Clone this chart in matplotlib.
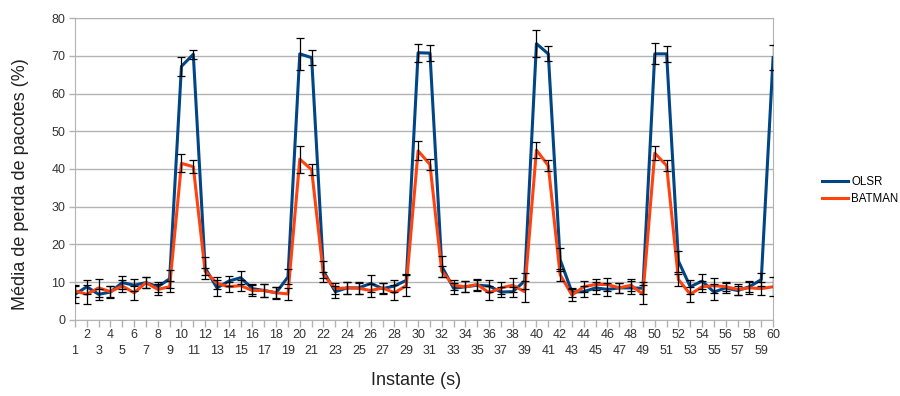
import matplotlib
matplotlib.use('Agg')
import matplotlib.pyplot as plt
import numpy as np

plt.rcParams['font.family'] = ['Liberation Sans', 'DejaVu Sans']

# Mean packet loss (%) per time instant, with standard deviation
instante = list(range(1, 61))
olsr = [6.8, 8.8, 6.8, 7.4, 9.9, 9.2, 9.9, 8.8, 10.9, 67.2,
        70.4, 13.8, 8.5, 10.3, 11.2, 8.3, 7.8, 7.2, 11.4, 70.5,
        69.5, 12.9, 7.5, 8.5, 8.5, 9.7, 8.3, 9.0, 10.5, 70.8,
        70.7, 14.2, 8.4, 8.8, 9.2, 9.0, 7.4, 7.5, 10.3, 73.2,
        70.5, 16.0, 7.4, 7.5, 8.5, 8.1, 8.5, 8.5, 8.4, 70.5,
        70.5, 15.6, 8.8, 10.3, 7.4, 8.5, 7.8, 8.8, 10.7, 69.5]
batman = [7.7, 6.8, 8.5, 7.5, 9.0, 7.2, 9.9, 8.1, 8.8, 41.5,
          40.6, 12.9, 9.7, 8.8, 9.1, 7.8, 7.8, 7.2, 6.9, 42.6,
          39.8, 12.0, 8.3, 8.5, 8.4, 7.8, 8.5, 7.2, 9.1, 44.8,
          41.2, 12.9, 9.2, 8.8, 9.4, 7.2, 8.5, 9.2, 7.5, 45.0,
          40.9, 12.0, 6.6, 8.8, 9.4, 9.4, 8.5, 9.2, 6.8, 44.2,
          40.9, 10.7, 6.8, 8.8, 9.1, 8.8, 8.1, 8.5, 8.3, 8.8]
olsr_err = [2.2, 1.8, 1.5, 1.5, 1.8, 1.6, 1.4, 1.3, 2.3, 2.6,
            1.2, 3.0, 2.2, 1.4, 1.8, 1.3, 1.6, 1.6, 2.0, 4.2,
            2.0, 2.8, 1.6, 1.6, 1.5, 2.2, 1.4, 1.5, 1.8, 2.4,
            2.2, 2.8, 1.4, 1.4, 1.4, 1.6, 1.3, 1.3, 2.2, 3.5,
            2.0, 3.0, 1.2, 1.5, 1.5, 1.8, 1.4, 1.7, 1.6, 2.8,
            2.1, 2.8, 1.8, 2.0, 2.0, 1.3, 1.3, 1.5, 1.8, 3.4]
batman_err = [1.5, 2.5, 2.3, 1.5, 1.5, 1.8, 1.5, 1.5, 1.5, 2.4,
              1.7, 1.0, 1.6, 1.3, 1.5, 1.5, 1.8, 1.5, 1.7, 3.6,
              1.5, 0.8, 1.5, 1.5, 1.5, 1.8, 1.3, 2.0, 2.8, 2.5,
              1.5, 1.5, 1.3, 1.5, 1.4, 1.8, 1.6, 1.8, 2.8, 2.1,
              1.5, 1.6, 1.5, 1.5, 1.4, 1.6, 1.3, 1.6, 2.5, 1.9,
              1.5, 1.6, 2.0, 1.5, 2.0, 1.2, 1.5, 1.5, 1.8, 2.5]

fig = plt.figure(figsize=(9, 3.96), dpi=100)
ax = fig.add_axes([0.0833, 0.192, 0.7757, 0.7625])

grid_col = '#b3b3b3'
ax.set_axisbelow(True)
ax.yaxis.grid(True, color=grid_col, linewidth=1)

ax.plot(instante, olsr, color='#004586', linewidth=2.2, label='OLSR', zorder=3)
ax.plot(instante, batman, color='#ff420e', linewidth=2.2, label='BATMAN', zorder=3)
ax.errorbar(instante, olsr, yerr=olsr_err, fmt='none', ecolor='black',
            elinewidth=0.9, capsize=3, capthick=0.9, zorder=4)
ax.errorbar(instante, batman, yerr=batman_err, fmt='none', ecolor='black',
            elinewidth=0.9, capsize=3, capthick=0.9, zorder=4)

ax.set_xlim(1, 60)
ax.set_ylim(0, 80)
ax.set_yticks(range(0, 81, 10))

# even instants on the upper row, odd ones staggered below
pares = [n for n in instante if n % 2 == 0]
impares = [n for n in instante if n % 2 == 1]
ax.set_xticks(pares)
ax.set_xticklabels([str(n) for n in pares])
ax.set_xticks(impares, minor=True)
ax.set_xticklabels([str(n) for n in impares], minor=True)

for s in ax.spines.values():
    s.set_color(grid_col)
ax.tick_params(axis='both', which='both', colors=grid_col, labelcolor='#333333',
               labelsize=9, length=5, width=1, direction='out')
ax.tick_params(axis='x', which='major', pad=1.5)
ax.tick_params(axis='x', which='minor', pad=13)
ax.tick_params(axis='y', pad=3, length=4)

ax.set_ylabel('Média de perda de pacotes (%)', fontsize=13, color='#222222')
ax.yaxis.set_label_coords(-0.066, 0.45)
ax.set_xlabel('Instante (s)', fontsize=13, color='#222222')
ax.xaxis.set_label_coords(0.4885, -0.172)

leg = fig.legend(loc='center left', bbox_to_anchor=(0.913, 0.518), frameon=False,
                 fontsize=8.3, handlelength=2.3, handletextpad=0.25, labelspacing=0.45,
                 borderaxespad=0, borderpad=0)

fig.savefig('out.png', dpi=100)
